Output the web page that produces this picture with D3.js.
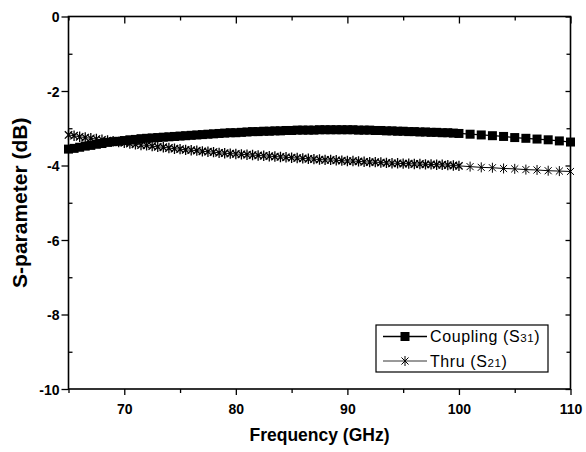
<!DOCTYPE html>
<html><head><meta charset="utf-8">
<script src="https://cdn.jsdelivr.net/npm/d3@7"></script>
<style>body{margin:0;background:#fff}svg{display:block;font-family:"Liberation Sans",Arial,sans-serif}</style>
</head><body>
<svg id="c" width="586" height="452"></svg>
<script>
// ---- data ----
const freqDense = [65,65.5,66,66.5,67,67.5,68,68.5,69,69.5,
  70,70.5,71,71.5,72,72.5,73,73.5,74,74.5,
  75,75.5,76,76.5,77,77.5,78,78.5,79,79.5,
  80,80.5,81,81.5,82,82.5,83,83.5,84,84.5,
  85,85.5,86,86.5,87,87.5,88,88.5,89,89.5,
  90,90.5,91,91.5,92,92.5,93,93.5,94,94.5,
  95,95.5,96,96.5,97,97.5,98,98.5,99,99.5,100];
const couplingDense = [-3.56,-3.54,-3.51,-3.48,-3.46,-3.43,-3.41,-3.38,-3.36,-3.35,
  -3.33,-3.31,-3.30,-3.28,-3.27,-3.26,-3.25,-3.24,-3.23,-3.22,
  -3.21,-3.20,-3.19,-3.18,-3.17,-3.16,-3.15,-3.14,-3.13,-3.12,
  -3.12,-3.11,-3.10,-3.09,-3.09,-3.08,-3.08,-3.07,-3.07,-3.06,
  -3.06,-3.05,-3.05,-3.05,-3.05,-3.04,-3.04,-3.04,-3.04,-3.04,
  -3.04,-3.04,-3.05,-3.05,-3.05,-3.06,-3.06,-3.07,-3.07,-3.08,
  -3.08,-3.09,-3.09,-3.10,-3.10,-3.11,-3.11,-3.12,-3.12,-3.13,-3.14];
const thruDense = [-3.18,-3.20,-3.23,-3.25,-3.27,-3.29,-3.31,-3.33,-3.35,-3.37,
  -3.39,-3.41,-3.43,-3.45,-3.46,-3.48,-3.50,-3.51,-3.53,-3.55,
  -3.56,-3.58,-3.59,-3.60,-3.62,-3.63,-3.64,-3.66,-3.67,-3.68,
  -3.69,-3.70,-3.71,-3.72,-3.73,-3.74,-3.75,-3.76,-3.77,-3.78,
  -3.79,-3.80,-3.81,-3.82,-3.83,-3.84,-3.85,-3.85,-3.86,-3.87,
  -3.88,-3.88,-3.89,-3.90,-3.91,-3.91,-3.92,-3.93,-3.94,-3.94,
  -3.95,-3.95,-3.96,-3.96,-3.97,-3.97,-3.98,-3.98,-3.99,-4.00,-4.01];
const freqSparse = [101,102,103,104,105,106,107,108,109,110];
const couplingSparse = [-3.16,-3.18,-3.20,-3.22,-3.25,-3.27,-3.29,-3.31,-3.34,-3.37];
const thruSparse = [-4.03,-4.05,-4.06,-4.08,-4.09,-4.11,-4.12,-4.14,-4.15,-4.16];
const xMajor = [70,80,90,100,110];
const xMinor = [65,75,85,95,105];
const yMajor = [0,-2,-4,-6,-8,-10];
const yMinor = [-1,-3,-5,-7,-9];
const seriesNames = ["Coupling (S", "Thru (S"];
const seriesSubs = ["31", "21"];

// ---- layout ----
const L = 68.5, R = 570.5, T = 16.5, B = 389;
const FONT = '"Liberation Sans",Arial,sans-serif';
const x = d3.scaleLinear().domain([65,110]).range([L,R]);
const y = d3.scaleLinear().domain([-10,0]).range([B,T]);
const svg = d3.select("#c");
const fmt = d => String(d);

const coupling = freqDense.map((f,i)=>({f,v:couplingDense[i],dense:true})).concat(freqSparse.map((f,i)=>({f,v:couplingSparse[i],dense:false})));
const thru = freqDense.map((f,i)=>({f,v:thruDense[i],dense:true})).concat(freqSparse.map((f,i)=>({f,v:thruSparse[i],dense:false})));

const line = d3.line().x(d=>x(d.f)).y(d=>y(d.v));
const plot = svg.append("g");

function starPath(r){
  const a = r*0.7071;
  return `M${-a},${-a}L${a},${a}M${-a},${a}L${a},${-a}M0,${-r}L0,${r}`;
}

// thru
plot.append("path").datum(thru).attr("d",line).attr("fill","none").attr("stroke","#000").attr("stroke-width",1);
plot.selectAll(".st").data(thru).join("path").attr("class","st")
  .attr("transform",d=>`translate(${x(d.f)},${y(d.v)})`)
  .attr("d",d=>starPath(d.dense?5.2:5)).attr("fill","none").attr("stroke","#000")
  .attr("stroke-width",d=>d.dense?1.3:1);

// coupling
plot.append("path").datum(coupling).attr("d",line).attr("fill","none").attr("stroke","#000").attr("stroke-width",1.2);
const sq = 9;
plot.selectAll(".sq").data(coupling).join("rect").attr("class","sq")
  .attr("x",d=>x(d.f)-sq/2).attr("y",d=>y(d.v)-sq/2).attr("width",sq).attr("height",sq).attr("fill","#000");

// ---- axes ----
const axW = 1.6;
function clean(g){ g.attr("font-family",FONT); g.select(".domain").remove(); g.selectAll(".tick line").attr("stroke-width",1.3); }
const gB = svg.append("g").attr("transform",`translate(0,${B})`)
  .call(d3.axisBottom(x).tickValues(xMajor).tickSize(6).tickFormat(fmt)).call(clean);
gB.selectAll(".tick text").attr("font-size",14).attr("font-weight","bold").attr("dy","1.15em");
svg.append("g").attr("transform",`translate(0,${B})`)
  .call(d3.axisBottom(x).tickValues(xMinor).tickSize(4).tickFormat("")).call(clean);

// top (inward)
svg.append("g").attr("transform",`translate(0,${T})`)
  .call(d3.axisBottom(x).tickValues(xMajor).tickSize(7).tickFormat("")).call(clean);
svg.append("g").attr("transform",`translate(0,${T})`)
  .call(d3.axisBottom(x).tickValues(xMinor).tickSize(4).tickFormat("")).call(clean);

// left
const gL = svg.append("g").attr("transform",`translate(${L},0)`)
  .call(d3.axisLeft(y).tickValues(yMajor).tickSize(7).tickFormat(fmt)).call(clean);
gL.selectAll(".tick text").attr("font-size",14).attr("font-weight","bold").attr("x",-9).attr("dy","0.36em");
svg.append("g").attr("transform",`translate(${L},0)`)
  .call(d3.axisRight(y).tickValues(yMinor).tickSize(4).tickFormat("")).call(clean);

// right (inward)
svg.append("g").attr("transform",`translate(${R},0)`)
  .call(d3.axisLeft(y).tickValues(yMajor).tickSize(5).tickFormat("")).call(clean);
svg.append("g").attr("transform",`translate(${R},0)`)
  .call(d3.axisLeft(y).tickValues(yMinor).tickSize(4).tickFormat("")).call(clean);

// frame
svg.append("rect").attr("x",L).attr("y",T).attr("width",R-L).attr("height",B-T)
  .attr("fill","none").attr("stroke","#000").attr("stroke-width",axW);

// titles
svg.append("text").attr("x",(L+R)/2).attr("y",441).attr("text-anchor","middle")
  .attr("font-size",17.5).attr("font-weight","bold").text("Frequency (GHz)");
svg.append("text").attr("transform",`translate(27,${(T+B)/2}) rotate(-90)`).attr("text-anchor","middle")
  .attr("font-size",21).attr("font-weight","bold").text("S-parameter (dB)");

// legend
const lg = svg.append("g");
lg.append("rect").attr("x",376).attr("y",325).attr("width",172).attr("height",47)
  .attr("fill","#fff").attr("stroke","#000").attr("stroke-width",1.2);
const rows = [336.5, 361];
rows.forEach((ry,i)=>{
  lg.append("line").attr("x1",383).attr("x2",427).attr("y1",ry).attr("y2",ry).attr("stroke","#000").attr("stroke-width",i===0?1.4:0.8);
  if(i===0){
    lg.append("rect").attr("x",405-sq/2).attr("y",ry-sq/2).attr("width",sq).attr("height",sq).attr("fill","#000");
  } else {
    lg.append("path").attr("transform",`translate(405,${ry})`).attr("d",starPath(5)).attr("fill","none").attr("stroke","#000").attr("stroke-width",1);
  }
  const t = lg.append("text").attr("x",430).attr("y",ry+5.5).attr("font-size",16).attr("letter-spacing",0.6);
  t.append("tspan").text(seriesNames[i]);
  t.append("tspan").attr("font-size",11.5).text(seriesSubs[i]);
  t.append("tspan").text(")");
});
</script>
</body></html>
